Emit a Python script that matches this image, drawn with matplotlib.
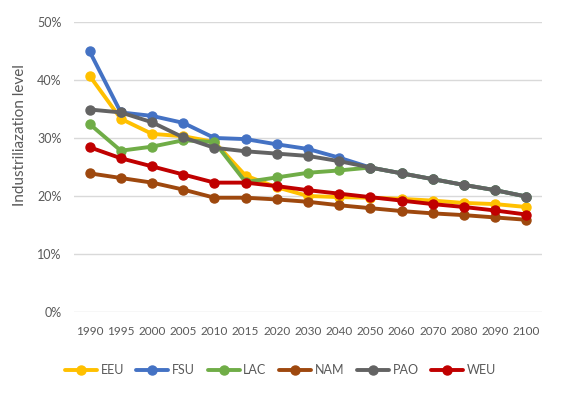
import matplotlib
matplotlib.use("Agg")
import matplotlib.pyplot as plt
from matplotlib.ticker import FuncFormatter

plt.rcParams["font.family"] = ["Lato", "DejaVu Sans"]

years = ["1990", "1995", "2000", "2005", "2010", "2015", "2020", "2030",
         "2040", "2050", "2060", "2070", "2080", "2090", "2100"]

# 工业化水平（%），从图上读出来的
EEU = [40.7, 33.3, 30.7, 30.3, 29.3, 23.5, 21.5, 20.0, 19.8, 19.7, 19.5, 19.2, 18.8, 18.6, 18.1]
FSU = [44.9, 34.4, 33.8, 32.6, 30.0, 29.8, 28.9, 28.1, 26.6, 24.9, 23.9, 22.9, 21.9, 21.0, 19.9]
LAC = [32.4, 27.8, 28.5, 29.6, 29.3, 22.4, 23.2, 24.0, 24.4, 24.9, 23.9, 22.9, 21.9, 21.0, 19.9]
NAM = [23.9, 23.1, 22.3, 21.1, 19.7, 19.7, 19.4, 19.0, 18.4, 17.9, 17.4, 17.0, 16.7, 16.3, 15.9]
PAO = [34.9, 34.4, 32.7, 30.1, 28.3, 27.7, 27.3, 26.9, 26.0, 24.9, 23.9, 22.9, 21.9, 21.0, 19.9]
WEU = [28.4, 26.5, 25.1, 23.7, 22.3, 22.3, 21.7, 21.0, 20.4, 19.8, 19.2, 18.6, 18.1, 17.5, 16.8]

names = ["EEU", "FSU", "LAC", "NAM", "PAO", "WEU"]
series = [EEU, FSU, LAC, NAM, PAO, WEU]
colors = ["#FFC000", "#4472C4", "#70AD47", "#9E480E", "#636363", "#C00000"]

fig = plt.figure(figsize=(5.61, 3.98), dpi=100)
ax = fig.add_axes([0.132, 0.216, 0.834, 0.729])

x = range(len(years))
for name, vals, c in zip(names, series, colors):
    ax.plot(x, [v / 100 for v in vals], color=c, lw=2.8, marker="o",
            markersize=6.5, label=name, solid_capstyle="round")

ax.set_xlim(-0.5, len(years) - 0.5)
ax.set_ylim(0, 0.5)
ax.set_yticks([0, 0.1, 0.2, 0.3, 0.4, 0.5])
ax.yaxis.set_major_formatter(FuncFormatter(lambda v, p: "{:.0f}%".format(v * 100)))
ax.set_xticks(list(x))
ax.set_xticklabels(years)
ax.grid(axis="y", color="#D9D9D9", lw=1)
ax.set_axisbelow(True)
for s in ax.spines.values():
    s.set_visible(False)
ax.tick_params(length=0, labelsize=8.5, colors="#595959")
ax.tick_params(axis="x", pad=10)
ax.tick_params(axis="y", pad=9, labelsize=9)
ax.set_ylabel("Industriliazation level", fontsize=11, color="#595959")
ax.yaxis.set_label_coords(-0.1, 0.61)

fig.legend(loc="center", bbox_to_anchor=(0.5, 0.07), ncol=6, frameon=False,
           fontsize=9, labelcolor="#595959", handlelength=2.56,
           handletextpad=0.3, columnspacing=1.0)

fig.savefig("out.png")
